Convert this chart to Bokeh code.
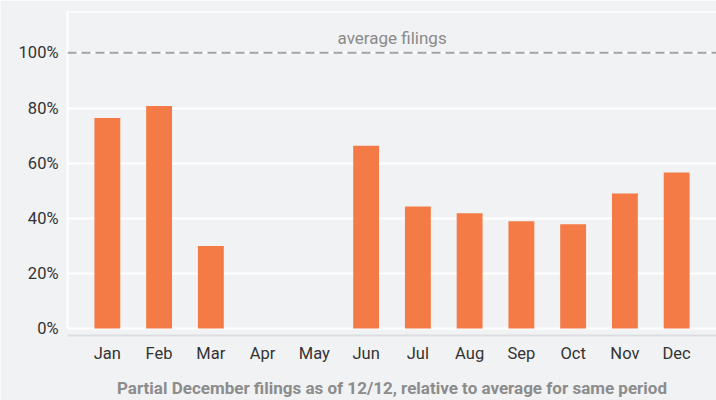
from bokeh.plotting import figure
from bokeh.models import FactorRange, Range1d, FixedTicker, Span, ColumnDataSource
from bokeh.embed import file_html
from bokeh.resources import INLINE
from bokeh.core.properties import value

months = ["Jan", "Feb", "Mar", "Apr", "May", "Jun", "Jul", "Aug", "Sep", "Oct", "Nov", "Dec"]
pct = [76.4, 80.7, 30.0, 0, 0, 66.3, 44.3, 41.8, 38.9, 37.8, 49.0, 56.6]
y_ticks = [0, 20, 40, 60, 80, 100]
y_labels = ["0%", "20%", "40%", "60%", "80%", "100%"]
avg_level = 100
avg_label = "average filings"
x_title = "Partial December filings as of 12/12, relative to average for same period"

BG = "#f1f2f4"
BAR = "#f47a46"
FONT = "Roboto"

p = figure(
    width=716, height=400,
    x_range=FactorRange(factors=months, range_padding=0.27, range_padding_units="absolute"),
    y_range=Range1d(-2.5, 115),
    output_backend="svg", toolbar_location=None,
    min_border_left=67, min_border_right=0, min_border_top=11, min_border_bottom=63,
)
p.background_fill_color = BG
p.border_fill_color = BG
p.outline_line_color = None

src = ColumnDataSource(dict(month=months, pct=pct))
p.vbar(x="month", top="pct", bottom=0, width=0.5, source=src, color=BAR, line_color=None)

# grids
p.xgrid.grid_line_color = None
p.ygrid.ticker = FixedTicker(ticks=y_ticks)
p.ygrid.grid_line_color = "white"
p.ygrid.grid_line_width = 2
p.add_layout(Span(location=p.y_range.end, dimension="width", line_color="white", line_width=2))

# average line
p.add_layout(Span(location=avg_level, dimension="width", line_color="#a3a3a3",
                  line_width=2, line_dash="9 5"))
p.text(x=["Jun"], y=[avg_level], text=[avg_label], x_offset=26, y_offset=-5,
       text_align="center", text_baseline="bottom", text_color="#8a8a8a",
       text_font=value(FONT), text_font_size="17px")

# y axis
p.yaxis.ticker = FixedTicker(ticks=y_ticks)
p.yaxis.major_label_overrides = {t: l for t, l in zip(y_ticks, y_labels)}
p.yaxis.bounds = (0, p.y_range.end)
p.yaxis.axis_line_color = "white"
p.yaxis.axis_line_width = 2
p.yaxis.major_tick_line_color = None
p.yaxis.major_tick_out = 0
p.yaxis.major_tick_in = 0
p.yaxis.minor_tick_line_color = None
p.yaxis.major_label_standoff = 9
p.yaxis.major_label_text_font = FONT
p.yaxis.major_label_text_font_size = "16.5px"
p.yaxis.major_label_text_color = "#333333"

# x axis
p.xaxis.axis_line_color = "#dcdde0"
p.xaxis.axis_line_width = 2
p.xaxis.major_tick_line_color = None
p.xaxis.major_tick_out = 0
p.xaxis.major_tick_in = 0
p.xaxis.minor_tick_line_color = None
p.xaxis.major_label_standoff = 8
p.xaxis.major_label_text_font = FONT
p.xaxis.major_label_text_font_size = "16.5px"
p.xaxis.major_label_text_color = "#333333"
p.xaxis.axis_label = x_title
p.xaxis.axis_label_standoff = 12
p.xaxis.axis_label_text_font = FONT
p.xaxis.axis_label_text_font_size = "17px"
p.xaxis.axis_label_text_font_style = "bold"
p.xaxis.axis_label_text_color = "#8c8c8c"

open("out.html", "w").write(file_html(p, INLINE))
